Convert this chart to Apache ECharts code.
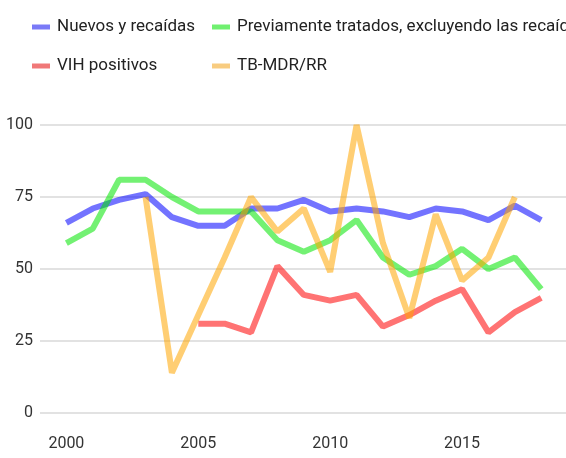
<!DOCTYPE html>
<html><head><meta charset="utf-8">
<script src="https://cdn.jsdelivr.net/npm/echarts@6/dist/echarts.min.js"></script>
<style>html,body{margin:0;padding:0;overflow:hidden;background:#fff}#c{width:640px;height:458px}</style>
</head><body><div id="c"></div>
<script>
const years = [2000,2001,2002,2003,2004,2005,2006,2007,2008,2009,2010,2011,2012,2013,2014,2015,2016,2017,2018];
const nuevos = [66,71,74,76,68,65,65,71,71,74,70,71,70,68,71,70,67,72,67];
const previos = [59,64,81,81,75,70,70,70,60,56,60,67,54,48,51,57,50,54,43];
const vih = [null,null,null,null,null,31,31,28,51,41,39,41,30,34,39,43,28,35,40];
const mdr = [null,null,null,75,14,34,54,75,63,71,49,100,59,33,69,46,54,75,null];
const xTicks = [2000,2005,2010,2015];
const yTicks = [0,25,50,75,100];
const names = ['Nuevos y recaídas','Previamente tratados, excluyendo las recaídas','VIH positivos','TB-MDR/RR'];

const FONT = "'Liberation Sans Narrow',Roboto,sans-serif";
const lineCols = ['#0000ff','#00e600','#ff0000','#ffa500'];
const legCols = ['#7a7af7','#70f070','#f07878','#f8cc80'];
const pairs = arr => years.map((y,i)=>[y,arr[i]]);
const seriesData = [nuevos, previos, vih, mdr];

const legendPos = [[32,17],[212,17],[32,56],[212,56]];
const chart = echarts.init(document.getElementById('c'), null, {renderer:'canvas'});
chart.setOption({
  animation:false,
  legend: names.map((n,i)=>({
    data:[{name:n, itemStyle:{color:legCols[i]}}],
    left:legendPos[i][0], top:legendPos[i][1], padding:0,
    icon:'rect', itemWidth:18, itemHeight:5,
    textStyle:{fontFamily:FONT, fontSize:17, color:'#222', lineHeight:20, padding:[0,0,0,2]}
  })),
  grid:{left:40, top:125, width:554, height:288, containLabel:false},
  xAxis:{type:'value', min:1999, max:2020,
    axisLine:{show:false}, axisTick:{show:false}, splitLine:{show:false},
    axisLabel:{customValues:xTicks, formatter:v=>String(v), fontFamily:FONT, fontSize:16, color:'#333', margin:23}},
  yAxis:{type:'value', min:0, max:100, interval:25,
    axisLine:{show:false}, axisTick:{show:false},
    splitLine:{lineStyle:{color:'#d8d8d8', width:1.5}},
    axisLabel:{customValues:yTicks, formatter:v=>String(v), fontFamily:FONT, fontSize:16, color:'#333', margin:7}},
  series: names.map((n,i)=>({
    name:n, type:'line', data:pairs(seriesData[i]), showSymbol:false, symbol:'none',
    connectNulls:false, color:lineCols[i],
    lineStyle:{width:6, opacity:0.55, color:lineCols[i]}
  }))
});
</script></body></html>
